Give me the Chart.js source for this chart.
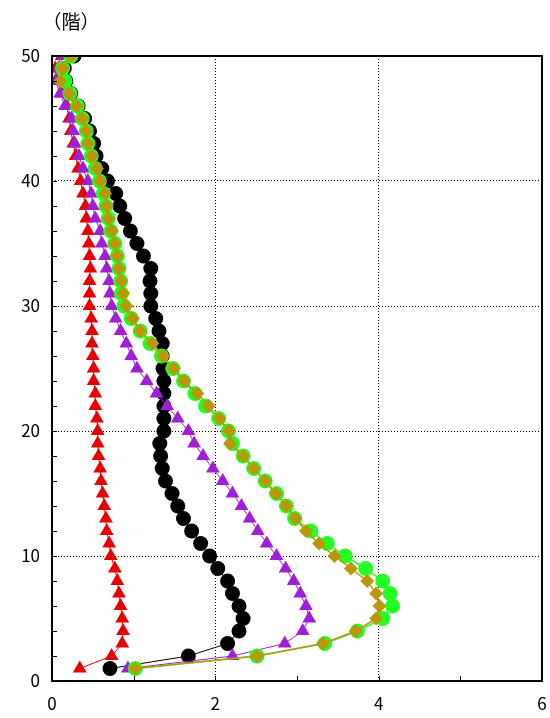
<!DOCTYPE html>
<html lang="ja">
<head>
<meta charset="utf-8">
<title>階別応答</title>
<script src="https://cdn.jsdelivr.net/npm/chart.js@4.4.1/dist/chart.umd.min.js"></script>
<style>
  html, body { margin: 0; padding: 0; background: #fff; }
  #wrap { width: 550px; height: 718px; }
</style>
</head>
<body>
<div id="wrap"><canvas id="myChart1" width="550" height="718"></canvas></div>
<script>
// floor numbers (y)
const floors = [1, 2, 3, 4, 5, 6, 7, 8, 9, 10,
  11, 12, 13, 14, 15, 16, 17, 18, 19, 20,
  21, 22, 23, 24, 25, 26, 27, 28, 29, 30,
  31, 32, 33, 34, 35, 36, 37, 38, 39, 40,
  41, 42, 43, 44, 45, 46, 47, 48, 49, 50];

// values per floor, bottom to top
const redVals = [0.34, 0.73, 0.86, 0.87, 0.86, 0.84, 0.82, 0.80, 0.77, 0.72,
  0.70, 0.67, 0.66, 0.64, 0.62, 0.60, 0.59, 0.57, 0.56, 0.56,
  0.55, 0.53, 0.53, 0.51, 0.51, 0.50, 0.49, 0.49, 0.48, 0.46,
  0.46, 0.46, 0.47, 0.46, 0.45, 0.44, 0.42, 0.41, 0.38, 0.35,
  0.32, 0.29, 0.26, 0.23, 0.21, 0.18, 0.12, 0.06, 0.04, 0.12];

const blackVals = [0.71, 1.67, 2.15, 2.29, 2.34, 2.29, 2.21, 2.15, 2.03, 1.93,
  1.82, 1.71, 1.61, 1.54, 1.47, 1.39, 1.35, 1.33, 1.32, 1.37,
  1.37, 1.37, 1.37, 1.37, 1.36, 1.35, 1.35, 1.31, 1.27, 1.21,
  1.21, 1.20, 1.21, 1.12, 1.04, 0.96, 0.89, 0.83, 0.78, 0.68,
  0.61, 0.54, 0.51, 0.46, 0.40, 0.32, 0.23, 0.17, 0.15, 0.27];

const purpleVals = [0.93, 2.21, 2.85, 3.07, 3.15, 3.11, 3.04, 2.96, 2.86, 2.75,
  2.63, 2.52, 2.42, 2.32, 2.21, 2.09, 1.97, 1.85, 1.74, 1.67,
  1.54, 1.41, 1.28, 1.16, 1.04, 0.97, 0.91, 0.84, 0.78, 0.73,
  0.71, 0.70, 0.67, 0.65, 0.61, 0.59, 0.53, 0.50, 0.48, 0.44,
  0.38, 0.33, 0.28, 0.26, 0.24, 0.16, 0.10, 0.04, 0.08, 0.14];

const greenVals = [1.02, 2.51, 3.34, 3.74, 4.05, 4.17, 4.14, 4.05, 3.84, 3.59,
  3.37, 3.17, 2.97, 2.87, 2.75, 2.61, 2.47, 2.34, 2.21, 2.16,
  2.04, 1.88, 1.75, 1.61, 1.48, 1.34, 1.20, 1.08, 0.97, 0.88,
  0.85, 0.84, 0.82, 0.80, 0.77, 0.72, 0.69, 0.66, 0.63, 0.58,
  0.53, 0.48, 0.44, 0.42, 0.37, 0.31, 0.22, 0.16, 0.13, 0.23];

const oliveVals = [1.02, 2.51, 3.32, 3.72, 3.97, 4.01, 3.97, 3.86, 3.66, 3.46,
  3.27, 3.11, 2.98, 2.87, 2.74, 2.61, 2.47, 2.34, 2.18, 2.17,
  2.05, 1.92, 1.78, 1.62, 1.49, 1.36, 1.23, 1.08, 0.99, 0.91,
  0.87, 0.85, 0.82, 0.80, 0.77, 0.73, 0.69, 0.67, 0.65, 0.59,
  0.55, 0.49, 0.44, 0.42, 0.37, 0.30, 0.21, 0.10, 0.13, 0.23];

const xTicks = [0, 2, 4, 6];
const yTicks = [0, 10, 20, 30, 40, 50];

const FONT = "'Noto Sans CJK JP', 'Noto Sans', sans-serif";

function toPoints(vals) {
  return vals.map((v, i) => ({ x: v, y: floors[i] }));
}

function series(vals, color, shape, r, lw) {
  return {
    data: toPoints(vals),
    showLine: true,
    borderColor: color,
    borderWidth: lw,
    backgroundColor: color,
    pointBackgroundColor: color,
    pointBorderColor: color,
    pointBorderWidth: 0,
    pointStyle: shape,
    pointRadius: r,
    pointHoverRadius: r
  };
}

// frame, inner tick marks and the unit label
const framePlugin = {
  id: 'frame',
  afterDraw(chart) {
    const { ctx, chartArea: a, scales } = chart;
    ctx.save();
    ctx.strokeStyle = '#000';
    ctx.lineWidth = 1;
    // minor ticks on the left axis
    scales.y.ticks.forEach(t => {
      const py = Math.round(scales.y.getPixelForValue(t.value)) + 0.5;
      ctx.beginPath();
      ctx.moveTo(a.left, py);
      ctx.lineTo(a.left + 5, py);
      ctx.stroke();
    });
    // minor ticks on the bottom axis
    scales.x.ticks.forEach(t => {
      const px = Math.round(scales.x.getPixelForValue(t.value)) + 0.5;
      ctx.beginPath();
      ctx.moveTo(px, a.bottom);
      ctx.lineTo(px, a.bottom - 5);
      ctx.stroke();
    });
    ctx.lineWidth = 2;
    ctx.strokeRect(a.left, a.top, a.right - a.left, a.bottom - a.top);
    ctx.fillStyle = '#000';
    ctx.font = '19px ' + FONT;
    ctx.textAlign = 'center';
    ctx.textBaseline = 'middle';
    ctx.fillText('（階）', 71, 22);
    ctx.restore();
  }
};

const ctx = document.getElementById('myChart1').getContext('2d');
const myChart1 = new Chart(ctx, {
  type: 'scatter',
  data: {
    // first entry is drawn on top
    datasets: [
      series(oliveVals, '#bb960a', 'rectRot', 7, 1.5),
      series(greenVals, '#22ff22', 'circle', 7.5, 1.5),
      series(purpleVals, '#a01fd6', 'triangle', 8, 1),
      series(redVals, '#e60000', 'triangle', 8, 1),
      series(blackVals, '#000000', 'circle', 7.5, 1)
    ]
  },
  options: {
    responsive: false,
    animation: false,
    devicePixelRatio: 1,
    layout: { padding: { top: 56, right: 8, left: 0, bottom: 0 } },
    plugins: {
      legend: { display: false },
      tooltip: { enabled: false }
    },
    scales: {
      x: {
        type: 'linear',
        min: 0,
        max: 6,
        afterFit: s => { s.height = 37; s.paddingLeft = 0; s.paddingRight = 0; },
        ticks: {
          stepSize: 1,
          autoSkip: false,
          maxRotation: 0,
          padding: 12,
          color: '#000',
          font: { family: FONT, size: 17 },
          callback: v => (xTicks.includes(v) ? v : '')
        },
        grid: {
          drawTicks: false,
          lineWidth: 1,
          color: c => (c.tick && xTicks.includes(c.tick.value) && c.tick.value > 0 && c.tick.value < 6 ? '#000' : 'rgba(0,0,0,0)')
        },
        border: { display: false, dash: [1, 2] }
      },
      y: {
        type: 'linear',
        min: 0,
        max: 50,
        afterFit: s => { s.width = 52; s.paddingTop = 0; s.paddingBottom = 0; },
        ticks: {
          stepSize: 2,
          autoSkip: false,
          padding: 12,
          color: '#000',
          font: { family: FONT, size: 17 },
          callback: v => (yTicks.includes(v) ? v : '')
        },
        grid: {
          drawTicks: false,
          lineWidth: 1,
          color: c => (c.tick && yTicks.includes(c.tick.value) && c.tick.value > 0 && c.tick.value < 50 ? '#000' : 'rgba(0,0,0,0)')
        },
        border: { display: false, dash: [1, 2] }
      }
    }
  },
  plugins: [framePlugin]
});
</script>
</body>
</html>
